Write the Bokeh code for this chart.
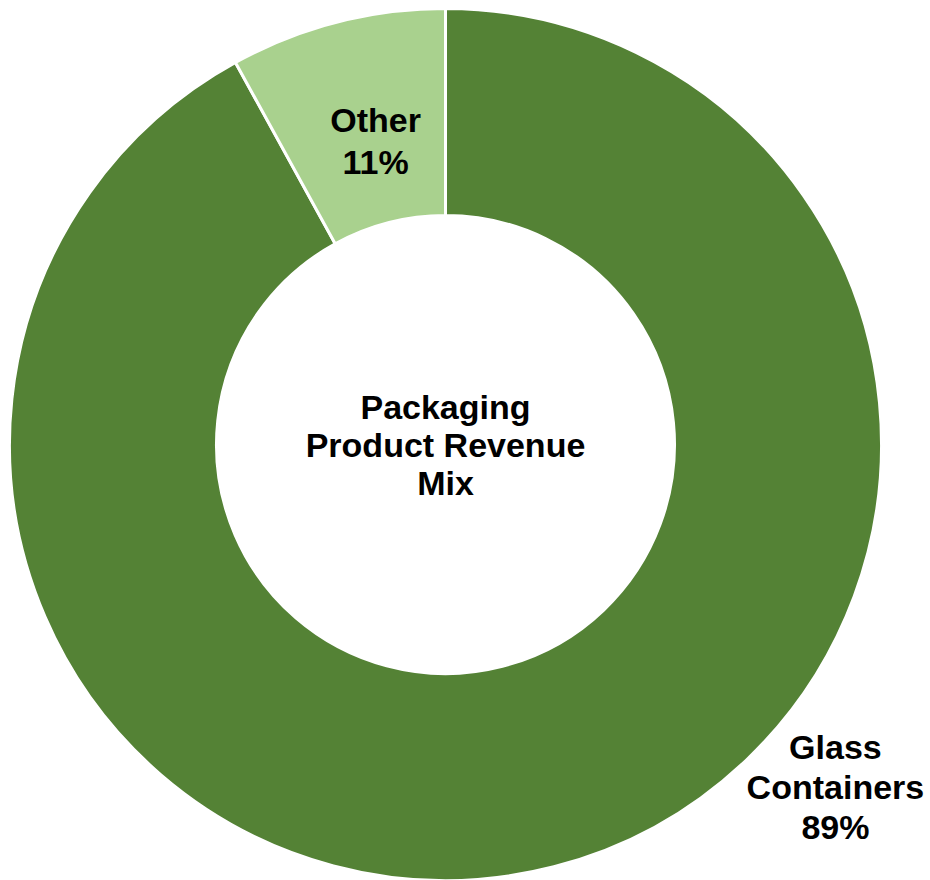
import math
from bokeh.plotting import figure
from bokeh.models import Range1d, ColumnDataSource
from bokeh.core.properties import value
from bokeh.embed import file_html
from bokeh.resources import INLINE

# ---- data ----
categories = ["Glass Containers", "Other"]
shares = [92.0, 8.0]                      # angular share of each slice as drawn
label_lines = [["Glass", "Containers", "89%"], ["Other", "11%"]]
center_lines = ["Packaging", "Product Revenue", "Mix"]

# ---- style ----
colors = ["#548235", "#A9D18E"]
FONT = "Liberation Sans"
FSIZE = "34px"
W, H = 930, 880
CX, CY = 445, -444          # donut centre in page pixel units (y downward -> negative)
R_OUT, R_IN = 436, 229
label_polar = [(-41.3, 519), (103.0, 311)]   # (angle deg, radius) of each label block centre
label_spacing = [40, 42]
center_spacing = 38

p = figure(width=W, height=H, output_backend="svg", toolbar_location=None,
           x_range=Range1d(0, W), y_range=Range1d(-H, 0),
           min_border=0, background_fill_color="white", border_fill_color="white")
p.axis.visible = False
p.xgrid.visible = False
p.ygrid.visible = False
p.outline_line_color = None

total = sum(shares)
starts, ends = [], []
a = math.pi / 2
for s in shares:
    starts.append(a)
    a -= 2 * math.pi * s / total
    ends.append(a)

src = ColumnDataSource(dict(cat=categories, start=starts, end=ends, color=colors,
                            x=[CX] * len(shares), y=[CY] * len(shares)))
p.annular_wedge(x="x", y="y", inner_radius=R_IN, outer_radius=R_OUT,
                start_angle="start", end_angle="end", direction="clock",
                fill_color="color", line_color="white", line_width=3, source=src)

# slice labels
tx, ty, tt = [], [], []
for lines, (ang, rad), sp in zip(label_lines, label_polar, label_spacing):
    bx = CX + rad * math.cos(math.radians(ang))
    by = CY + rad * math.sin(math.radians(ang))
    n = len(lines)
    for i, t in enumerate(lines):
        tx.append(bx)
        ty.append(by - (i - (n - 1) / 2) * sp)
        tt.append(t)
n = len(center_lines)
for i, t in enumerate(center_lines):
    tx.append(CX)
    ty.append(CY - (i - (n - 1) / 2) * center_spacing)
    tt.append(t)

p.text(x=tx, y=ty, text=tt, text_font=value(FONT), text_font_size=FSIZE,
       text_font_style="bold", text_color="black", text_align="center",
       text_baseline="middle")

open("out.html", "w").write(file_html(p, INLINE))
